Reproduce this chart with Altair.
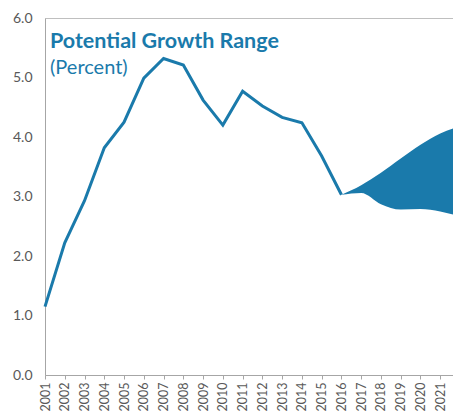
import altair as alt
import pandas as pd

years = [str(y) for y in range(2001, 2023)]
hist_years = [str(y) for y in range(2001, 2017)]
hist_values = [1.15, 2.22, 2.93, 3.82, 4.25, 4.99, 5.32, 5.21, 4.62, 4.20, 4.77, 4.52, 4.33, 4.24, 3.68, 3.03]
proj_years = [str(y) for y in range(2016, 2023)]
proj_upper = [3.03, 3.19, 3.40, 3.64, 3.87, 4.06, 4.18]
proj_lower = [3.03, 3.06, 2.87, 2.78, 2.79, 2.75, 2.66]

BLUE = "#1a7aab"
FONT = "Lato"

hist = pd.DataFrame({"year": hist_years, "value": hist_values})
proj = pd.DataFrame({"year": proj_years, "upper": proj_upper, "lower": proj_lower})

xscale = alt.Scale(domain=years, type="point", padding=0)
xaxis = alt.Axis(title=None, labelAngle=-90, labelAlign="right", labelBaseline="middle",
                 labelFontSize=12.5, labelColor="#595959", labelFont=FONT, tickSize=4,
                 tickColor="#a6a6a6", domainColor="#a6a6a6", labelPadding=3, grid=False)
yscale = alt.Scale(domain=[0, 6])
yaxis = alt.Axis(title=None, values=[0, 1, 2, 3, 4, 5, 6], format=".1f", labelFontSize=14,
                 labelColor="#595959", labelFont=FONT, ticks=False, domainColor="#a6a6a6",
                 labelPadding=13, grid=False)

area = alt.Chart(proj).mark_area(color=BLUE, interpolate="monotone", opacity=1).encode(
    x=alt.X("year:O", scale=xscale, axis=xaxis),
    y=alt.Y("upper:Q", scale=yscale, axis=yaxis),
    y2="lower:Q",
)

line = alt.Chart(hist).mark_line(color=BLUE, strokeWidth=3).encode(
    x=alt.X("year:O", scale=xscale, axis=xaxis),
    y=alt.Y("value:Q", scale=yscale, axis=yaxis),
)

one = alt.Data(values=[{"a": 1}])
title = alt.Chart(one).mark_text(text="Potential Growth Range", font=FONT, fontSize=21.5,
                                 fontWeight="bold", color=BLUE, align="left",
                                 baseline="alphabetic").encode(x=alt.value(5), y=alt.value(30))
sub = alt.Chart(one).mark_text(text="(Percent)", font=FONT, fontSize=20,
                               color=BLUE, align="left",
                               baseline="alphabetic").encode(x=alt.value(5), y=alt.value(56))

chart = alt.layer(area, line, title, sub).properties(
    width=415, height=357,
    autosize=alt.AutoSizeParams(type="none"),
    padding={"left": 37, "top": 10, "right": -7, "bottom": 38},
).configure_view(stroke="#bfbfbf", strokeWidth=1)

chart.save("out.html", embed_options={"renderer": "svg", "actions": False})
